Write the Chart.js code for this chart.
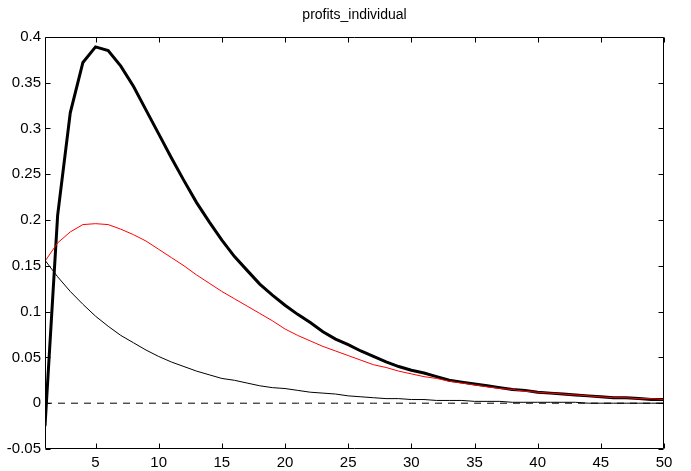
<!DOCTYPE html>
<html>
<head>
<meta charset="utf-8">
<script src="https://cdn.jsdelivr.net/npm/chart.js@4.4.1/dist/chart.umd.min.js"></script>
<style>
  html, body { margin: 0; padding: 0; background: #ffffff; }
  #wrap { width: 691px; height: 471px; }
</style>
</head>
<body>
<div id="wrap"><canvas id="c" width="691" height="471"></canvas></div>
<script>
const chartTitle = 'profits_individual';

const periods = [1,2,3,4,5,6,7,8,9,10,11,12,13,14,15,16,17,18,19,20,21,22,23,24,25,26,27,28,29,30,31,32,33,34,35,36,37,38,39,40,41,42,43,44,45,46,47,48,49,50];

const thickSeries = [-0.025,0.205,0.317,0.372,0.389,0.385,0.368,0.346,0.320,0.294,0.268,0.243,0.219,0.198,0.178,0.160,0.145,0.130,0.118,0.107,0.097,0.088,0.078,0.070,0.064,0.057,0.051,0.045,0.040,0.036,0.033,0.029,0.025,0.023,0.021,0.019,0.017,0.015,0.014,0.012,0.011,0.010,0.009,0.008,0.007,0.006,0.006,0.005,0.004,0.004];

const redSeries = [0.155,0.175,0.187,0.195,0.196,0.195,0.190,0.184,0.177,0.168,0.159,0.150,0.140,0.131,0.122,0.114,0.106,0.098,0.090,0.081,0.074,0.068,0.062,0.057,0.052,0.047,0.042,0.039,0.035,0.032,0.029,0.027,0.024,0.022,0.020,0.018,0.016,0.015,0.013,0.012,0.011,0.010,0.009,0.008,0.007,0.006,0.006,0.005,0.005,0.004];

const thinSeries = [0.156,0.138,0.122,0.108,0.095,0.084,0.074,0.066,0.058,0.051,0.045,0.040,0.035,0.031,0.027,0.025,0.022,0.019,0.017,0.016,0.014,0.012,0.011,0.010,0.008,0.007,0.006,0.005,0.005,0.004,0.004,0.003,0.003,0.003,0.002,0.002,0.002,0.001,0.001,0.001,0.001,0.001,0.001,0.000,0.000,0.000,0.000,0.000,0.000,0.000];

const zeroSeries = [0,0,0,0,0,0,0,0,0,0,0,0,0,0,0,0,0,0,0,0,0,0,0,0,0,0,0,0,0,0,0,0,0,0,0,0,0,0,0,0,0,0,0,0,0,0,0,0,0,0];

const xTickValues = [5,10,15,20,25,30,35,40,45,50];
const yTickValues = [-0.05,0,0.05,0.1,0.15,0.2,0.25,0.3,0.35,0.4];

function pts(vals) { return periods.map((p, i) => ({ x: p, y: vals[i] })); }

Chart.defaults.font.family = "'Liberation Sans', Arial, Helvetica, sans-serif";
Chart.defaults.color = '#000000';

const framePlugin = {
  id: 'frame',
  afterDatasetsDraw(chart) {
    const { ctx, chartArea, scales } = chart;
    const l = Math.round(chartArea.left) + 0.5;
    const r = Math.round(chartArea.right) - 0.5;
    const t = Math.round(chartArea.top) + 0.5;
    const b = Math.round(chartArea.bottom) - 0.5;
    ctx.save();
    ctx.strokeStyle = '#000000';
    ctx.lineWidth = 1;
    ctx.beginPath();
    ctx.rect(l, t, r - l, b - t);
    ctx.stroke();
    const tl = 5;
    ctx.beginPath();
    xTickValues.forEach(v => {
      const px = Math.round(scales.x.getPixelForValue(v)) + 0.5;
      ctx.moveTo(px, b); ctx.lineTo(px, b - tl);
      ctx.moveTo(px, t); ctx.lineTo(px, t + tl);
    });
    yTickValues.forEach(v => {
      const py = Math.round(scales.y.getPixelForValue(v)) + 0.5;
      ctx.moveTo(l, py); ctx.lineTo(l + tl, py);
      ctx.moveTo(r, py); ctx.lineTo(r - tl, py);
    });
    ctx.stroke();
    ctx.restore();
  }
};

const bgPlugin = {
  id: 'bg',
  beforeDraw(chart) {
    const ctx = chart.ctx;
    ctx.save();
    ctx.fillStyle = '#ffffff';
    ctx.fillRect(0, 0, chart.width, chart.height);
    ctx.restore();
  }
};

new Chart(document.getElementById('c'), {
  type: 'line',
  data: {
    datasets: [
      { label: 'red', data: pts(redSeries), borderColor: '#ff0000', borderWidth: 1, pointRadius: 0, tension: 0, fill: false },
      { label: 'thick', data: pts(thickSeries), borderColor: '#000000', borderWidth: 3, pointRadius: 0, tension: 0, fill: false },
      { label: 'thin', data: pts(thinSeries), borderColor: '#000000', borderWidth: 1, pointRadius: 0, tension: 0, fill: false },
      { label: 'zero', data: pts(zeroSeries), borderColor: '#000000', borderWidth: 1, borderDash: [7, 6], pointRadius: 0, tension: 0, fill: false }
    ]
  },
  options: {
    responsive: false,
    animation: false,
    devicePixelRatio: 1,
    layout: { padding: { left: 0, right: 27, top: 0, bottom: 0 } },
    plugins: {
      legend: { display: false },
      tooltip: { enabled: false },
      title: {
        display: true,
        text: chartTitle,
        fullSize: false,
        color: '#000000',
        font: { size: 14, weight: 'normal' },
        padding: { top: 7, bottom: 13 }
      }
    },
    scales: {
      x: {
        type: 'linear',
        min: 1,
        max: 50,
        grid: { display: false, drawTicks: false },
        border: { display: false },
        ticks: { font: { size: 15 }, color: '#000000', padding: 5, maxRotation: 0, autoSkip: false },
        afterBuildTicks(scale) { scale.ticks = xTickValues.map(v => ({ value: v })); },
        afterFit(scale) { scale.height = 22; }
      },
      y: {
        type: 'linear',
        min: -0.05,
        max: 0.4,
        grid: { display: false, drawTicks: false },
        border: { display: false },
        ticks: {
          font: { size: 15 }, color: '#000000', padding: 4, autoSkip: false,
          callback: v => String(parseFloat(Number(v).toFixed(2)))
        },
        afterBuildTicks(scale) { scale.ticks = yTickValues.map(v => ({ value: v })); },
        afterFit(scale) { scale.width = 45; }
      }
    }
  },
  plugins: [bgPlugin, framePlugin]
});
</script>
</body>
</html>
